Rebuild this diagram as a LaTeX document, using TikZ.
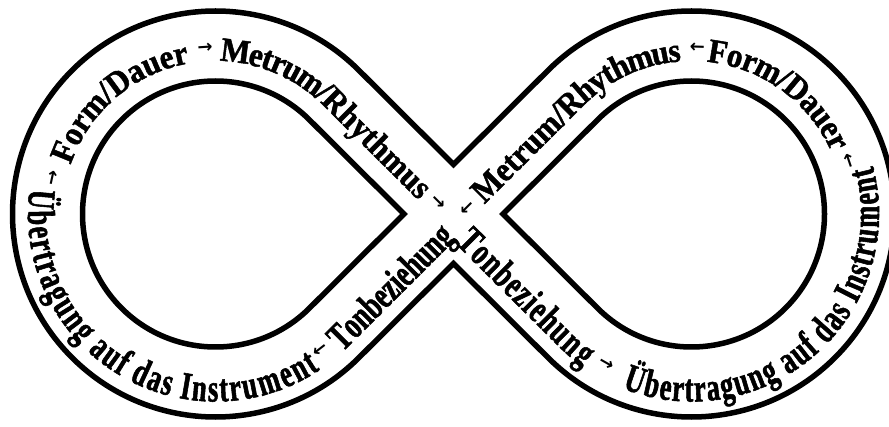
\documentclass[tikz,border=0pt]{standalone}
\usepackage{fontspec}
\usetikzlibrary{decorations.text,calc}
\newfontfamily\topfont[FakeStretch=0.92,FakeBold=1.4]{Liberation Serif Bold}
\newfontfamily\botfont[FakeStretch=0.68,FakeBold=1.4]{Liberation Serif Bold}
\newfontfamily\arrowfont{DejaVu Sans Bold}
\newcommand\TopF{\topfont\fontsize{34}{34}\selectfont}
\newcommand\BotF{\botfont\fontsize{39}{39}\selectfont}
\tikzset{
  bandline/.style={line width=5.5pt, draw=black, line join=miter},
  toptext/.style={decorate, decoration={text along path, text={|\TopF|#1}, text align=fit to path, raise=-15pt}},
  bottext/.style={decorate, decoration={text along path, text={|\BotF|#1}, text align=fit to path, raise=-19.5pt}},
  arr/.style={font=\arrowfont\fontsize{18}{18}\selectfont, inner sep=0pt},
}
\begin{document}
\begin{tikzpicture}[x=1pt,y=1pt]
\useasboundingbox (0,0) rectangle (889,426);
\clip (0,0) rectangle (889,426);
\fill[white] (0,0) rectangle (889,426);
\coordinate (L) at (215.5,212);
\coordinate (R) at (691.5,212);
\coordinate (C) at (453.5,212);
\coordinate (T) at (453.5,261.5);
\coordinate (B) at (453.5,162.5);
\coordinate (PL) at (404,212);
\coordinate (PR) at (503,212);
\coordinate (LT) at ($(L)+(45:168)$);
\coordinate (LB) at ($(L)+(-45:168)$);
\coordinate (RT) at ($(R)+(135:168)$);
\coordinate (RB) at ($(R)+(225:168)$);
% outer contour
\draw[bandline] ($(L)+(45:203)$) -- (T) -- ($(R)+(135:203)$)
  arc[start angle=135, end angle=-135, radius=203] -- (B)
  -- ($(L)+(-45:203)$) arc[start angle=-45, end angle=-315, radius=203] -- cycle;
% inner contours
\draw[bandline] (PL) -- ($(L)+(45:133)$) arc[start angle=45, end angle=315, radius=133] -- cycle;
\draw[bandline] (PR) -- ($(R)+(225:133)$) arc[start angle=225, end angle=495, radius=133] -- cycle;
% upper texts
\path[toptext={Form/Dauer}] ($(L)+(161:168)$) arc[start angle=161, end angle=100, radius=168];
\path[toptext={Metrum/Rhythmus}] ($(L)+(88:168)$) arc[start angle=88, end angle=45, radius=168] -- ($(LT)!134.7pt!(C)$);
\path[toptext={Metrum/Rhythmus}] ($(C)!28.6pt!(RT)$) -- (RT) arc[start angle=135, end angle=94, radius=168];
\path[toptext={Form/Dauer}] ($(R)+(84:168)$) arc[start angle=84, end angle=24, radius=168];
% lower texts
\path[bottext={Übertragung auf das Instrument}] ($(L)+(172:168)$) arc[start angle=172, end angle=304, radius=168];
\path[bottext={Tonbeziehung}] ($(L)+(312.3:168)$) arc[start angle=312.3, end angle=315, radius=168] -- ($(LB)!150.5pt!(C)$);
\path[bottext={Tonbeziehung}] ($(C)!22pt!(RB)$) -- (RB) arc[start angle=225, end angle=235, radius=168];
\path[bottext={Übertragung auf das Instrument}] ($(R)+(248:168)$) arc[start angle=248, end angle=375, radius=168];
% arrows
\node[arr, rotate=77.6] (a1) at ($(L)+(167.6:166)$) {→};
\node[arr, rotate=3.6] (a2) at ($(L)+(93.6:166)$) {→};
\node[arr, rotate=-45] (a3) at ($(C)+(-15.5,12)$) {→};
\node[arr, rotate=225] (a4) at ($(C)+(13.5,7)$) {→};
\node[arr, rotate=-2] (a5) at ($(R)+(88:166)$) {←};
\node[arr, rotate=-71.4] (a6) at ($(R)+(18.6:166)$) {←};
\node[arr, rotate=37.8] (a7) at ($(L)+(307.8:172)$) {←};
\node[arr, rotate=330.4] (a8) at ($(R)+(240.4:172)$) {→};
\end{tikzpicture}
\end{document}
